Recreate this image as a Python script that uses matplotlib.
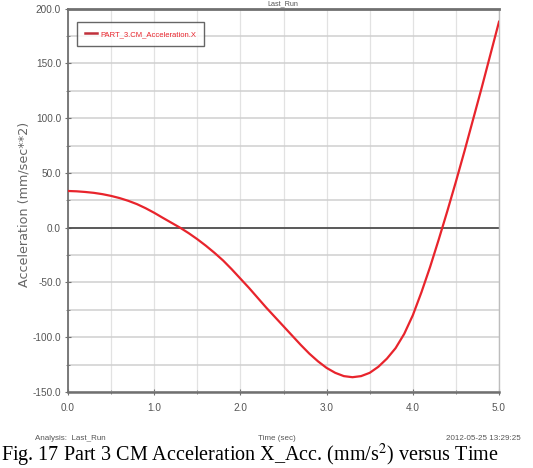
import matplotlib
matplotlib.use("Agg")
import matplotlib.pyplot as plt
from matplotlib.ticker import MultipleLocator, FormatStrFormatter

# ---- data ----
time_s = [0.0, 0.1, 0.2, 0.3, 0.4, 0.5, 0.6, 0.7, 0.8, 0.9,
          1.0, 1.1, 1.2, 1.3, 1.4, 1.5, 1.6, 1.7, 1.8, 1.9,
          2.0, 2.1, 2.2, 2.3, 2.4, 2.5, 2.6, 2.7, 2.8, 2.9,
          3.0, 3.1, 3.2, 3.3, 3.4, 3.5, 3.6, 3.7, 3.8, 3.9,
          4.0, 4.1, 4.2, 4.3, 4.4, 4.5, 4.6, 4.7, 4.8, 4.9, 5.0]
accel_x = [33.5, 33.2, 32.6, 31.8, 30.6, 29.0, 27.0, 24.5, 21.5, 17.8,
           13.6, 9.0, 4.5, 0.0, -5.0, -10.5, -16.5, -23.0, -30.0, -38.0,
           -46.5, -55.0, -64.0, -73.0, -81.5, -90.0, -98.5, -107.0, -115.0, -122.0,
           -128.0, -132.5, -135.5, -136.5, -135.5, -132.5, -127.0, -119.5, -110.0, -97.0,
           -80.0, -59.0, -36.0, -11.0, 15.0, 42.0, 70.0, 99.0, 128.0, 158.0, 188.0]
series_label = "PART_3.CM_Acceleration.X"
x_label = "Time (sec)"
y_label = "Acceleration (mm/sec**2)"
left_note = "Analysis:  Last_Run"
right_note = "2012-05-25 13:29:25"
top_note = "Last_Run"
caption = "Fig. 17 Part 3 CM Acceleration X_Acc. (mm/s$^2$) versus Time"

plt.rcParams['font.family'] = ['Liberation Sans', 'DejaVu Sans']
plt.rcParams['mathtext.fontset'] = 'stix'

W, H = 533, 468
fig = plt.figure(figsize=(W / 100, H / 100), dpi=100)
fig.patch.set_facecolor('white')
ax = fig.add_axes([68 / W, 1 - 392 / H, (499 - 68) / W, (392 - 8.6) / H])

ax.set_xlim(0, 5)
ax.set_ylim(-150, 200)
ax.xaxis.set_major_locator(MultipleLocator(1))
ax.xaxis.set_minor_locator(MultipleLocator(0.5))
ax.yaxis.set_major_locator(MultipleLocator(50))
ax.yaxis.set_minor_locator(MultipleLocator(25))
ax.xaxis.set_major_formatter(FormatStrFormatter('%.1f'))
ax.yaxis.set_major_formatter(FormatStrFormatter('%.1f'))

ax.grid(True, axis='y', which='both', color='#cfcfcf', linewidth=1.1)
ax.grid(True, axis='x', which='both', color='#e2e2e2', linewidth=0.9)
ax.set_axisbelow(True)
ax.axhline(0, color='#505050', linewidth=1.3, zorder=2)

ax.plot(time_s, accel_x, color='#e8242c', linewidth=1.6, zorder=3, label=series_label)

for side in ['left', 'bottom', 'top']:
    ax.spines[side].set_color('#707070')
ax.spines['top'].set_linewidth(2.0)
ax.spines['left'].set_linewidth(1.3)
ax.spines['bottom'].set_linewidth(1.8)
ax.spines['right'].set_color('#bdbdbd')
ax.spines['right'].set_linewidth(1.0)

ax.tick_params(axis='both', which='both', direction='inout', color='#707070',
               labelcolor='#555555', labelsize=7.2)
ax.tick_params(axis='both', which='major', length=4)
ax.tick_params(axis='both', which='minor', length=3)
ax.tick_params(axis='x', pad=6)
ax.tick_params(axis='y', pad=3)

ax.set_ylabel(y_label, color='#666666', fontsize=9.2, family=['DejaVu Sans'])
ax.yaxis.set_label_coords(-0.088, 0.49)

leg = ax.legend(loc='upper left', bbox_to_anchor=(0.021, 0.965), frameon=True,
                fancybox=False, fontsize=5.5, handlelength=1.5, handletextpad=0.4,
                borderpad=1.1, borderaxespad=0)
leg.get_frame().set_edgecolor('#404040')
leg.get_frame().set_linewidth(1.0)
for t in leg.get_texts():
    t.set_color('#e8242c')
for h in leg.get_lines():
    h.set_color('#c0303a')
    h.set_linewidth(1.8)

note_kw = dict(fontsize=5.8, color='#555555', va='center')
fig.text(35 / W, 1 - 438 / H, left_note, ha='left', **note_kw)
fig.text(277 / W, 1 - 438 / H, x_label, ha='center', **note_kw)
fig.text(521 / W, 1 - 438 / H, right_note, ha='right', **note_kw)
fig.text(283 / W, 1 - 0.5 / H, top_note, fontsize=5.2, color='#555555', va='top', ha='center')

fig.text(1 / W, 1 - 455 / H, caption, fontsize=14.5, color='black', va='center', ha='left',
         family=['Liberation Serif', 'DejaVu Serif'])

fig.savefig('out.png', dpi=100, facecolor='white')
